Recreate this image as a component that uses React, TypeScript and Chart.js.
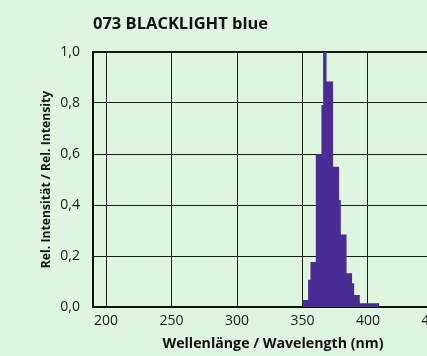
import React, { useEffect, useRef } from "react";
import { Chart, registerables } from "chart.js";

Chart.register(...registerables);

// ---- data ----
const chartTitle = "073 BLACKLIGHT blue";
const xAxisTitle = "Wellenlänge / Wavelength (nm)";
const yAxisTitle = "Rel. Intensität / Rel. Intensity";

// start wavelength of each step (nm); last entry closes the histogram
const wavelengthStart = [350, 354.3, 356.1, 360.2, 364.5, 365.8, 368.4, 373.4, 378.0, 379.3, 383.7, 387.9, 389.5, 393.8, 408.6];
const relIntensity = [0.027, 0.107, 0.176, 0.599, 0.792, 1.0, 0.884, 0.55, 0.42, 0.284, 0.132, 0.093, 0.047, 0.015, 0];

const xMin = 190;
const xMax = 465;
const xStep = 50;
const yMin = 0;
const yMax = 1;
const yStep = 0.2;

const FONT = "'Open Sans', 'Noto Sans', sans-serif";
const BG = "#ddf6dd";
const BAR = "#4a2c95";

const titlePlugin = {
  id: "customTitle",
  afterDraw(chart: any) {
    const { ctx, chartArea } = chart;
    ctx.save();
    ctx.font = `bold 16.5px ${FONT}`;
    ctx.fillStyle = "#111";
    ctx.textBaseline = "middle";
    ctx.textAlign = "left";
    ctx.fillText(chartTitle, chartArea.left, 24);
    ctx.restore();
  },
};

export default function App() {
  const ref = useRef<HTMLCanvasElement | null>(null);

  useEffect(() => {
    if (!ref.current) return;
    const points = wavelengthStart.map((x, i) => ({ x, y: relIntensity[i] }));
    const chart = new Chart(ref.current, {
      type: "line",
      data: {
        datasets: [
          {
            data: points,
            stepped: "before",
            fill: "origin",
            backgroundColor: BAR,
            borderColor: BAR,
            borderWidth: 0,
            pointRadius: 0,
          },
        ],
      },
      options: {
        animation: false,
        responsive: false,
        devicePixelRatio: 1,
        layout: { padding: { top: 52, right: 27, left: 0, bottom: 0 } },
        plugins: {
          legend: { display: false },
          tooltip: { enabled: false },
          title: { display: false },
        },
        scales: {
          x: {
            type: "linear",
            min: xMin,
            max: xMax,
            afterFit: (s: any) => {
              s.height = 49;
            },
            ticks: {
              stepSize: xStep,
              includeBounds: false,
              padding: 6,
              color: "#1a1a1a",
              font: { family: FONT, size: 14 },
              maxRotation: 0,
            },
            grid: { color: "#1a1a1a", lineWidth: 1, drawTicks: false },
            border: { display: true, color: "#111", width: 2 },
            title: {
              display: true,
              text: xAxisTitle,
              color: "#111",
              font: { family: FONT, size: 14.2, weight: "bold" },
              padding: { top: 0, bottom: 4 },
            },
          },
          y: {
            min: yMin,
            max: yMax,
            afterFit: (s: any) => {
              s.width = 93;
            },
            ticks: {
              stepSize: yStep,
              padding: 13,
              color: "#1a1a1a",
              font: { family: FONT, size: 14 },
              callback: (v: any) => Number(v).toFixed(1).replace(".", ","),
            },
            grid: {
              color: "#1a1a1a",
              lineWidth: (c: any) => (c.tick && c.tick.value === yMax ? 2 : 1),
              drawTicks: false,
            },
            border: { display: true, color: "#111", width: 2 },
            title: {
              display: true,
              text: yAxisTitle,
              color: "#111",
              font: { family: FONT, size: 12.2, weight: "bold" },
              padding: { top: 39, bottom: 0 },
            },
          },
        },
      },
      plugins: [titlePlugin],
    });
    return () => chart.destroy();
  }, []);

  return (
    <div
      style={{
        position: "absolute",
        left: 0,
        top: 0,
        width: 427,
        height: 356,
        overflow: "hidden",
        background: BG,
      }}
    >
      <canvas ref={ref} width={480} height={356} style={{ width: 480, height: 356, display: "block" }} />
    </div>
  );
}
